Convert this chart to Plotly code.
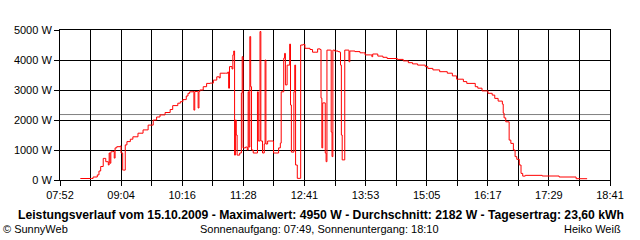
import plotly.graph_objects as go

times = ["08:16","08:29","08:31","08:36","08:38","08:40","08:43","08:45","08:46","08:49",
         "08:50","08:51","08:52","08:54","08:56","08:57","08:59","09:03","09:04","09:06",
         "09:07","09:09","09:11","09:15","09:18","09:24","09:30","09:36","09:42","09:46",
         "09:50","09:56","10:02","10:05","10:11","10:14","10:17","10:21","10:23","10:25",
         "10:29","10:30","10:31","10:34","10:35","10:36","10:37","10:41","10:45","10:49",
         "10:53","10:57","11:00","11:01","11:07","11:10","11:11","11:12","11:15","11:16",
         "11:17","11:18","11:19","11:20","11:21","11:24","11:26","11:27","11:28","11:31",
         "11:33","11:34","11:35","11:36","11:37","11:38","11:40","11:45","11:46","11:48",
         "11:49","11:51","11:53","11:54","11:55","11:57","12:04","12:10","12:12","12:13",
         "12:16","12:17","12:18","12:20","12:23","12:24","12:25","12:28","12:29","12:30",
         "12:32","12:36","12:39","12:41","12:47","12:50","12:54","12:56","12:59","13:00",
         "13:01","13:02","13:05","13:06","13:07","13:11","13:12","13:13","13:14","13:16",
         "13:20","13:22","13:23","13:24","13:25","13:28","13:32","13:33","13:34","13:40",
         "13:46","13:50","13:52","13:58","14:00","14:01","14:07","14:13","14:18","14:25",
         "14:30","14:37","14:43","14:48","14:54","15:03","15:06","15:12","15:20","15:29",
         "15:35","15:40","15:48","15:52","16:02","16:05","16:10","16:17","16:22","16:25",
         "16:29","16:34","16:35","16:36","16:38","16:42","16:44","16:47","16:49","16:51",
         "16:54","16:56","16:58","17:01","17:21","17:41","18:01","18:14"]
watts = [50,50,100,170,300,450,720,720,610,500,
         900,560,940,950,730,1070,1110,1130,900,330,
         330,1170,1280,1360,1440,1560,1670,1830,2000,2100,
         2170,2250,2350,2480,2560,2610,2680,2800,2890,2940,
         2950,2330,2950,2950,2400,2950,3000,3110,3220,3230,
         3330,3440,3400,3560,3560,3600,3060,3780,3700,4170,
         4300,830,2000,1500,830,900,2900,4110,1070,1100,
         1000,2940,1100,4780,3110,1000,900,2940,1300,4950,
         1300,900,1200,4000,1200,1300,900,1070,1230,2940,
         4060,4220,3170,3830,4530,2500,930,2940,3830,500,
         55,4500,4520,4390,4350,4260,4260,4370,4350,2730,
         1070,2570,900,610,4330,4330,1600,780,4330,4300,
         4280,4260,3830,1500,670,4330,4330,3940,4300,4280,
         4240,4240,4170,4170,4110,4200,4130,4090,4050,4050,
         4020,3970,3910,3870,3830,3780,3720,3670,3610,3560,
         3470,3360,3280,3220,3110,3060,2970,2890,2830,2720,
         2630,2530,2230,2070,1940,1330,1220,1000,780,690,
         500,220,130,155,133,100,43,43]
avg_w = 2182
x_start, x_end = "07:52", "18:41"
x_tick_labels = ["07:52","09:04","10:16","11:28","12:41","13:53","15:05","16:17","17:29","18:41"]
y_ticks = [0, 1000, 2000, 3000, 4000, 5000]

title_text = "Leistungsverlauf vom 15.10.2009 - Maximalwert: 4950 W - Durchschnitt: 2182 W - Tagesertrag: 23,60 kWh"
left_text = "© SunnyWeb"
mid_text = "Sonnenaufgang: 07:49, Sonnenuntergang: 18:10"
right_text = "Heiko Weiß"

assert len(times) == len(watts)

def to_min(s):
    h, m = s.split(":")
    return int(h) * 60 + int(m)

x = [to_min(t) for t in times]
x0, x1 = to_min(x_start), to_min(x_end)
n_int = 2 * (len(x_tick_labels) - 1)
tickvals = [x0 + k * (x1 - x0) / n_int for k in range(n_int + 1)]
ticktext = []
for k in range(n_int + 1):
    ticktext.append(x_tick_labels[k // 2] if k % 2 == 0 else "")

FONT = "Liberation Sans"

fig = go.Figure()
fig.add_trace(go.Scatter(x=x, y=watts, mode="lines", line=dict(color="#ff0000", width=1, shape="hv"),
                         hoverinfo="skip", showlegend=False))

fig.add_shape(type="line", xref="paper", x0=0, x1=1, yref="y", y0=avg_w, y1=avg_w,
              line=dict(color="#808080", width=1), layer="below")

fig.update_layout(
    width=640, height=240, autosize=False,
    margin=dict(l=60, r=30, t=30, b=60),
    paper_bgcolor="white", plot_bgcolor="white",
    font=dict(family=FONT, size=11, color="black"),
    showlegend=False,
    xaxis=dict(range=[x0, x1], tickvals=tickvals, ticktext=ticktext, ticks="outside", ticklen=5,
               tickcolor="black", tickwidth=1, showgrid=True, gridcolor="black", gridwidth=1,
               showline=True, linecolor="black", linewidth=1, mirror=True, zeroline=False,
               tickfont=dict(family=FONT, size=11, color="black")),
    yaxis=dict(range=[0, 5000], tickvals=y_ticks, ticktext=[f"{v} W" for v in y_ticks],
               ticks="outside", ticklen=5, tickcolor="black", tickwidth=1,
               showgrid=True, gridcolor="black", gridwidth=1,
               showline=True, linecolor="black", linewidth=1, mirror=True, zeroline=False,
               tickfont=dict(family=FONT, size=11, color="black")),
)

fig.add_annotation(text="<b>" + title_text + "</b>", xref="paper", yref="paper", x=0.475, y=0,
                   yshift=-35, xanchor="center", yanchor="middle", showarrow=False,
                   font=dict(family=FONT, size=12.2, color="black"))
fig.add_annotation(text=left_text, xref="paper", yref="paper", x=-0.107, y=0, yshift=-49,
                   xanchor="left", yanchor="middle", showarrow=False,
                   font=dict(family=FONT, size=11, color="black"))
fig.add_annotation(text=mid_text, xref="paper", yref="paper", x=0.4727, y=0, yshift=-49,
                   xanchor="center", yanchor="middle", showarrow=False,
                   font=dict(family=FONT, size=11, color="black"))
fig.add_annotation(text=right_text, xref="paper", yref="paper", x=1.0236, y=0, yshift=-49,
                   xanchor="right", yanchor="middle", showarrow=False,
                   font=dict(family=FONT, size=11, color="black"))

fig.write_html("out.html")
